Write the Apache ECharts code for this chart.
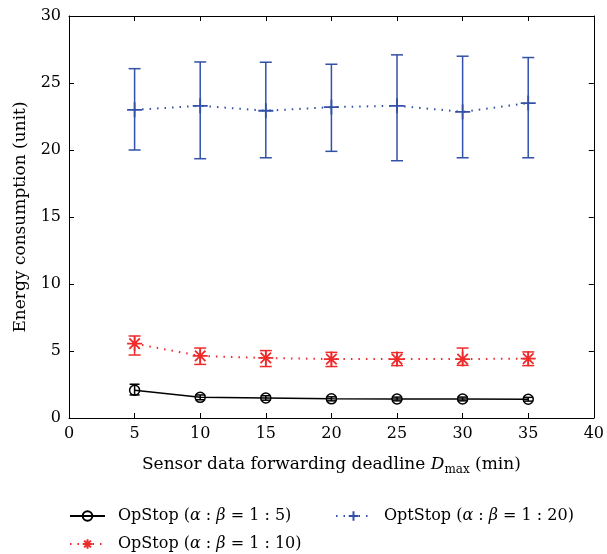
<!DOCTYPE html>
<html>
<head>
<meta charset="utf-8">
<script src="https://cdn.jsdelivr.net/npm/echarts@6/dist/echarts.min.js"></script>
<style>
html,body{margin:0;padding:0;background:#fff;}
#main{width:607px;height:554px;}
</style>
</head>
<body>
<div id="main"></div>
<script>
var deadlines = [5, 10, 15, 20, 25, 30, 35];
/* OpStop 1:5 */
var s5Mean = [2.07, 1.54, 1.49, 1.43, 1.42, 1.42, 1.40];
var s5Low = [1.72, 1.36, 1.33, 1.28, 1.28, 1.28, 1.26];
var s5High = [2.52, 1.72, 1.66, 1.58, 1.56, 1.56, 1.54];
/* OpStop 1:10 */
var s10Mean = [5.55, 4.63, 4.48, 4.40, 4.40, 4.40, 4.43];
var s10Low = [4.70, 4.00, 3.84, 3.84, 3.91, 3.93, 3.91];
var s10High = [6.12, 5.22, 5.03, 4.90, 4.88, 5.22, 4.93];
/* OptStop 1:20 */
var s20Mean = [23.0, 23.3, 22.93, 23.2, 23.3, 22.85, 23.5];
var s20Low = [20.0, 19.35, 19.42, 19.9, 19.2, 19.42, 19.42];
var s20High = [26.07, 26.57, 26.55, 26.4, 27.1, 27.0, 26.9];

var names = ['OpStop (α : β = 1 : 5)', 'OpStop (α : β = 1 : 10)', 'OptStop (α : β = 1 : 20)'];
var colors = ['#000000', '#ee2a2a', '#3350a8'];
var fontFam = '"DejaVu Serif", "Liberation Serif", serif';
var fs = 16;

function pts(means){
	return deadlines.map(function(d, i){ return [d, means[i]]; });
}
function errs(low, high){
	return deadlines.map(function(d, i){ return [d, low[i], high[i]]; });
}
/*误差线*/
function errSeries(low, high, color, cap){
	return {
		type: 'custom',
		silent: true,
		z: 3,
		data: errs(low, high),
		renderItem: function(params, api){
			var top = api.coord([api.value(0), api.value(2)]);
			var bot = api.coord([api.value(0), api.value(1)]);
			var st = {stroke: color, lineWidth: 1.5};
			return {
				type: 'group',
				children: [
					{type: 'line', shape: {x1: top[0], y1: top[1], x2: bot[0], y2: bot[1]}, style: st},
					{type: 'line', shape: {x1: top[0] - cap, y1: top[1], x2: top[0] + cap, y2: top[1]}, style: st},
					{type: 'line', shape: {x1: bot[0] - cap, y1: bot[1], x2: bot[0] + cap, y2: bot[1]}, style: st}
				]
			};
		}
	};
}
function legendFmt(name){
	return name.replace('α', '{i|α}').replace('β', '{i|β}');
}
var legendText = {
	fontFamily: fontFam, fontSize: fs, color: '#000', padding: [0, 0, 0, 8],
	rich: {i: {fontFamily: fontFam, fontSize: fs, fontStyle: 'italic', color: '#000'}}
};
/*图例*/
function oneLegend(name, left, top){
	return {
		data: [name],
		left: left, top: top,
		itemWidth: 35, itemHeight: 12,
		formatter: legendFmt,
		textStyle: legendText
	};
}
var asterisk = 'path://M0,-10L0,10M-10,0L10,0M-7,-7L7,7M-7,7L7,-7';
var plus = 'path://M0,-10L0,10M-10,0L10,0';

var myChart = echarts.init(document.getElementById('main'));
var option = {
	backgroundColor: '#fff',
	animation: false,
	grid: {left: 69, right: 8, top: 16, bottom: 136},
	legend: [
		oneLegend(names[0], 64, 503),
		oneLegend(names[1], 64, 531),
		oneLegend(names[2], 330, 503)
	],
	xAxis: [
		{
			type: 'value', min: 0, max: 40, interval: 5,
			name: 'Sensor data forwarding deadline {i|D}{sub|max} (min)',
			nameLocation: 'middle', nameGap: 36,
			nameTextStyle: {
				fontFamily: fontFam, fontSize: 17, color: '#000',
				rich: {
					i: {fontFamily: fontFam, fontSize: 17, fontStyle: 'italic', color: '#000'},
					sub: {fontFamily: fontFam, fontSize: 12, color: '#000', padding: [10, 0, 0, 0]}
				}
			},
			axisLine: {onZero: false, lineStyle: {color: '#000', width: 1}},
			axisTick: {inside: true, length: 5, lineStyle: {color: '#000'}},
			axisLabel: {fontFamily: fontFam, fontSize: fs, color: '#000', margin: 8},
			splitLine: {show: false}
		},
		{
			type: 'value', min: 0, max: 40, interval: 5, position: 'top',
			axisLine: {onZero: false, lineStyle: {color: '#000', width: 1}},
			axisTick: {inside: true, length: 5, lineStyle: {color: '#000'}},
			axisLabel: {show: false},
			splitLine: {show: false}
		}
	],
	yAxis: [
		{
			type: 'value', min: 0, max: 30, interval: 5,
			name: 'Energy consumption (unit)',
			nameLocation: 'middle', nameGap: 40,
			nameTextStyle: {fontFamily: fontFam, fontSize: 17, color: '#000'},
			axisLine: {show: true, onZero: false, lineStyle: {color: '#000', width: 1}},
			axisTick: {show: true, inside: true, length: 5, lineStyle: {color: '#000'}},
			axisLabel: {fontFamily: fontFam, fontSize: fs, color: '#000', margin: 8},
			splitLine: {show: false}
		},
		{
			type: 'value', min: 0, max: 30, interval: 5, position: 'right',
			axisLine: {show: true, onZero: false, lineStyle: {color: '#000', width: 1}},
			axisTick: {show: true, inside: true, length: 5, lineStyle: {color: '#000'}},
			axisLabel: {show: false},
			splitLine: {show: false}
		}
	],
	series: [
		{
			name: names[0], type: 'line', data: pts(s5Mean), z: 4,
			symbol: 'circle', symbolSize: 10,
			lineStyle: {color: colors[0], width: 1.5},
			itemStyle: {color: 'rgba(255,255,255,0)', borderColor: colors[0], borderWidth: 1.5}
		},
		{
			name: names[1], type: 'line', data: pts(s10Mean), z: 4,
			symbol: asterisk, symbolSize: 15,
			lineStyle: {color: colors[1], width: 2, type: [1.5, 6]},
			itemStyle: {color: 'none', borderColor: colors[1], borderWidth: 1.8}
		},
		{
			name: names[2], type: 'line', data: pts(s20Mean), z: 4,
			symbol: plus, symbolSize: 15,
			lineStyle: {color: colors[2], width: 2, type: [1.5, 6]},
			itemStyle: {color: 'none', borderColor: colors[2], borderWidth: 1.8}
		},
		errSeries(s5Low, s5High, colors[0], 5),
		errSeries(s10Low, s10High, colors[1], 6),
		errSeries(s20Low, s20High, colors[2], 6)
	]
};
myChart.setOption(option);
</script>
</body>
</html>
